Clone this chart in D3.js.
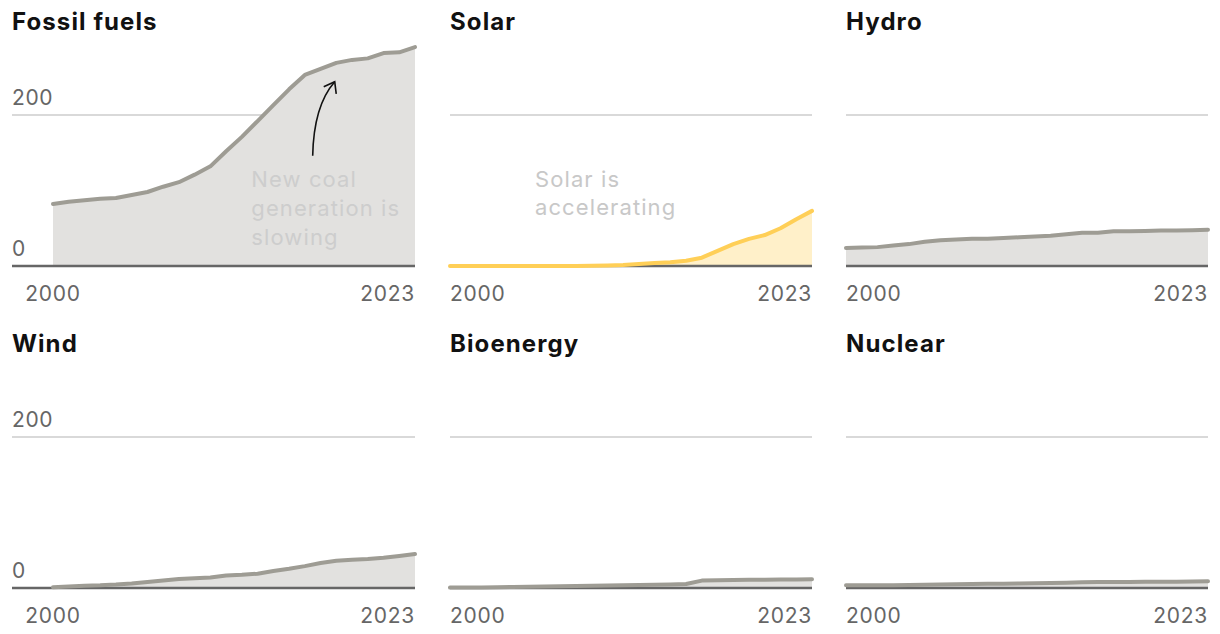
<!DOCTYPE html>
<html>
<head>
<meta charset="utf-8">
<script src="https://cdn.jsdelivr.net/npm/d3@7"></script>
<style>
  body { margin: 0; background: #fff; }
  text { font-family: Inter, "Noto Sans", sans-serif; }
</style>
</head>
<body>
<svg id="chart" width="1220" height="634"></svg>
<script>
// years 2000..2023
var years = d3.range(2000, 2024);

var fossil = [82, 85, 87, 89, 90, 94, 98, 105, 111, 121, 132, 152, 171, 192, 213, 234, 253, 261, 269, 273, 275, 282, 283, 290];
var solar = [0, 0, 0, 0, 0, 0, 0, 0, 0.1, 0.3, 0.7, 1.3, 2.6, 4, 5, 7, 11, 20, 29, 36, 41, 50, 62, 73];
var hydro = [24, 24.5, 25, 27, 29, 32, 34, 35, 36, 36, 37, 38, 39, 40, 42, 44, 44, 46, 46, 46.5, 47, 47, 47.5, 48];
var wind = [1, 2, 3, 3.5, 4.5, 6, 8, 10, 12, 13, 14, 16.5, 17.5, 19, 22.5, 25.5, 29, 33, 36, 37.5, 38.5, 40, 42.5, 45];
var bio = [0.5, 0.6, 0.8, 1, 1.3, 1.6, 2, 2.3, 2.6, 3, 3.3, 3.6, 4, 4.4, 4.8, 5.2, 9.8, 10.3, 10.6, 10.8, 11, 11.1, 11.2, 11.5];
var nuclear = [3.5, 3.5, 3.6, 3.8, 4, 4.3, 4.6, 5, 5.3, 5.5, 5.7, 5.9, 6.2, 6.5, 7, 7.5, 7.8, 8, 8.1, 8.2, 8.3, 8.4, 8.5, 9];

var titles = ["Fossil fuels", "Solar", "Hydro", "Wind", "Bioenergy", "Nuclear"];
var seriesList = [fossil, solar, hydro, wind, bio, nuclear];
var yTicks = [0, 200];
var xTicks = [2000, 2023];

var svg = d3.select("#chart");

var colStart = [53, 450, 846];
var plotW = 362;
var rowBase = [266, 588];

seriesList.forEach(function(vals, i) {
  var col = i % 3, row = Math.floor(i / 3);
  var x0 = colStart[col];
  var base = rowBase[row];
  var isSolar = titles[i] === "Solar";

  var x = d3.scaleLinear().domain([2000, 2023]).range([x0, x0 + plotW]);
  var y = d3.scaleLinear().domain([0, 200]).range([base, base - 151]);
  var gridLeft = col === 0 ? 12 : x0;

  var g = svg.append("g");

  // title
  g.append("text")
    .attr("x", gridLeft)
    .attr("y", base - 236)
    .attr("font-size", 24)
    .attr("font-weight", 700)
    .attr("letter-spacing", 1.1)
    .attr("fill", "#111")
    .text(titles[i]);

  // grid line at 200 (0 is the baseline)
  g.selectAll(".grid")
    .data(yTicks.filter(function(t) { return t > 0; }))
    .enter().append("line")
    .attr("x1", gridLeft).attr("x2", x0 + plotW)
    .attr("y1", function(d) { return y(d); })
    .attr("y2", function(d) { return y(d); })
    .attr("stroke", "#d9d9d9")
    .attr("stroke-width", 2);

  if (col === 0) {
    g.selectAll(".ylab")
      .data(yTicks)
      .enter().append("text")
      .attr("x", 12)
      .attr("y", function(d) { return y(d) - 10; })
      .attr("font-size", 21)
      .attr("letter-spacing", 0.6)
      .attr("fill", "#666")
      .text(function(d) { return d; });
  }

  var area = d3.area()
    .x(function(d, k) { return x(years[k]); })
    .y0(y(0))
    .y1(function(d) { return y(d); });
  var line = d3.line()
    .x(function(d, k) { return x(years[k]); })
    .y(function(d) { return y(d); });

  g.append("path")
    .attr("d", area(vals))
    .attr("fill", isSolar ? "#fff0c9" : "#e2e1df");

  // baseline
  g.append("line")
    .attr("x1", gridLeft).attr("x2", x0 + plotW)
    .attr("y1", y(0)).attr("y2", y(0))
    .attr("stroke", "#666")
    .attr("stroke-width", 2.5);

  g.append("path")
    .attr("d", line(vals))
    .attr("fill", "none")
    .attr("stroke", isSolar ? "#ffcf57" : "#9e9c94")
    .attr("stroke-width", 4)
    .attr("stroke-linejoin", "round")
    .attr("stroke-linecap", "round");

  // x labels
  g.selectAll(".xlab")
    .data(xTicks)
    .enter().append("text")
    .attr("x", function(d) { return x(d); })
    .attr("y", base + 35)
    .attr("font-size", 21)
    .attr("letter-spacing", 0.7)
    .attr("fill", "#666")
    .attr("text-anchor", function(d, k) {
      if (k === 1) return "end";
      return col === 0 ? "middle" : "start";
    })
    .text(function(d) { return d; });

  // annotations
  if (i === 0) {
    var note = ["New coal", "generation is", "slowing"];
    g.selectAll(".note")
      .data(note)
      .enter().append("text")
      .attr("x", x(2012.6))
      .attr("y", function(d, k) { return y(104) + k * 29; })
      .attr("font-size", 22)
      .attr("letter-spacing", 1.1)
      .attr("fill", "#cdcdcd")
      .text(function(d) { return d; });

    var sx = x(2016.5), sy = y(146);
    var tx = x(2017.9), ty = y(244);
    g.append("path")
      .attr("d", "M" + sx + "," + sy + " Q" + (sx + 1) + "," + (ty + 24) + " " + tx + "," + ty)
      .attr("fill", "none")
      .attr("stroke", "#111")
      .attr("stroke-width", 1.6);
    g.append("path")
      .attr("d", "M" + (tx - 11) + "," + (ty + 5) + " L" + tx + "," + ty + " L" + (tx + 1.5) + "," + (ty + 12))
      .attr("fill", "none")
      .attr("stroke", "#111")
      .attr("stroke-width", 1.6);
  }
  if (isSolar) {
    var snote = ["Solar is", "accelerating"];
    g.selectAll(".note")
      .data(snote)
      .enter().append("text")
      .attr("x", x(2005.4))
      .attr("y", function(d, k) { return y(104) + k * 28; })
      .attr("font-size", 22)
      .attr("letter-spacing", 1.1)
      .attr("fill", "#c8c8c8")
      .text(function(d) { return d; });
  }
});
</script>
</body>
</html>
